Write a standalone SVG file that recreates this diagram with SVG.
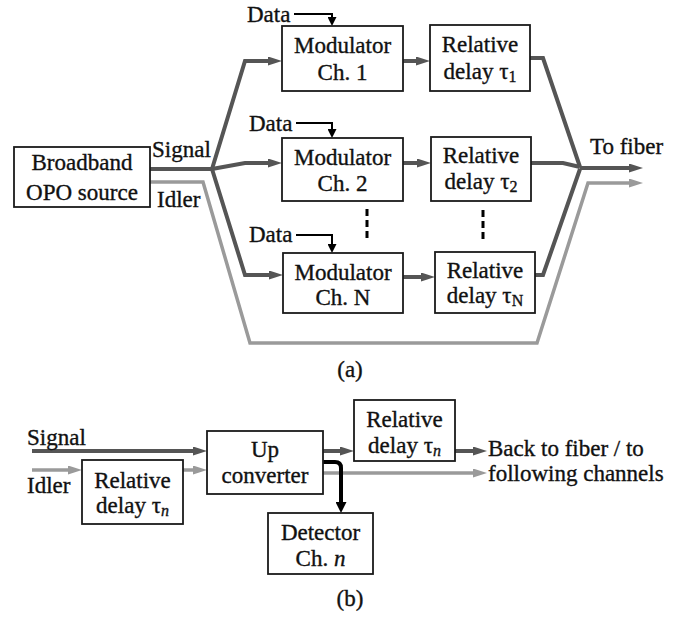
<svg xmlns="http://www.w3.org/2000/svg" width="675" height="618" viewBox="0 0 675 618">
<defs>
<style>
.box{fill:#fff;stroke:#1a1a1a;stroke-width:1.8}
.t{font-family:"Liberation Serif","Times New Roman",serif;font-size:23px;fill:#111;stroke:#111;stroke-width:0.35}
.m{text-anchor:middle}
.sig{fill:none;stroke:#555;stroke-width:4;marker-end:url(#ad)}
.sign{fill:none;stroke:#555;stroke-width:4}
.idl{fill:none;stroke:#9a9a9a;stroke-width:3.5;marker-end:url(#al)}
.dat{fill:none;stroke:#000;stroke-width:2;marker-end:url(#ak)}
.dash{stroke:#000;stroke-width:3;stroke-dasharray:7,4}
</style>
<marker id="ad" markerUnits="userSpaceOnUse" markerWidth="14" markerHeight="9" refX="7" refY="4.5" orient="auto"><path d="M0,0 L14,4.5 L0,9 Z" fill="#555"/></marker>
<marker id="al" markerUnits="userSpaceOnUse" markerWidth="14" markerHeight="9" refX="7" refY="4.5" orient="auto"><path d="M0,0 L14,4.5 L0,9 Z" fill="#9a9a9a"/></marker>
<marker id="ak" markerUnits="userSpaceOnUse" markerWidth="9" markerHeight="9" refX="2" refY="4.5" orient="auto"><path d="M0,0 L9,4.5 L0,9 Z" fill="#000"/></marker>
<marker id="akb" markerUnits="userSpaceOnUse" markerWidth="11" markerHeight="11" refX="3" refY="5.5" orient="auto"><path d="M0,0 L11,5.5 L0,11 Z" fill="#000"/></marker>
</defs>

<g id="connectors">
<path class="sign" d="M150,169 H212"/>
<path class="sig" d="M212,169 L245,61 H275"/>
<path class="sig" d="M212,169 L245,163 H275"/>
<path class="sig" d="M212,169 L245,275 H276"/>
<path class="sig" d="M403,61 H423"/>
<path class="sig" d="M403,163 H424"/>
<path class="sig" d="M403,277 H428"/>
<path class="sign" d="M530,58 H543 L580,167"/>
<path class="sign" d="M531,163 H563 L580,167"/>
<path class="sign" d="M535,275 H543 L580,169"/>
<path class="sig" d="M580,168 H636"/>
<path class="idl" d="M150,182 H203 L250,343 H537 L588,183 H636"/>
<path class="dat" d="M294,14 H332 V19"/>
<path class="dat" d="M296,123 H332 V131"/>
<path class="dat" d="M296,235 H332 V246"/>
<line class="dash" x1="367" y1="209" x2="367" y2="241"/>
<line class="dash" x1="483" y1="210" x2="483" y2="242"/>
<path class="sig" d="M32,451 H200"/>
<path class="idl" d="M32,470 H75"/>
<path class="idl" d="M183,470 H200"/>
<path class="sig" d="M323,451 H347"/>
<path class="idl" d="M323,473 H480"/>
<path class="sig" d="M455,451 H480"/>
<path d="M322,462 H335 Q341,462 341,468 V505" fill="none" stroke="#000" stroke-width="4" marker-end="url(#akb)"/>
</g>

<g id="broadband"><rect class="box" x="14" y="147" width="136" height="60"/>
<text class="t m" x="82" y="170">Broadband</text><text class="t m" x="82" y="200">OPO source</text></g>

<g id="mod1"><rect class="box" x="282" y="26" width="121" height="65"/>
<text class="t m" x="342.5" y="53">Modulator</text><text class="t m" x="342.5" y="80">Ch. 1</text></g>
<g id="delay1"><rect class="box" x="430" y="25" width="100" height="66"/>
<text class="t m" x="480" y="52">Relative</text><text class="t m" x="480" y="79">delay τ<tspan font-size="16" dy="3">1</tspan></text></g>

<g id="mod2"><rect class="box" x="282" y="138" width="121" height="63"/>
<text class="t m" x="342.5" y="165">Modulator</text><text class="t m" x="342.5" y="191">Ch. 2</text></g>
<g id="delay2"><rect class="box" x="431" y="137" width="100" height="64"/>
<text class="t m" x="481" y="163">Relative</text><text class="t m" x="481" y="189">delay τ<tspan font-size="16" dy="3">2</tspan></text></g>

<g id="modN"><rect class="box" x="283" y="253" width="120" height="60"/>
<text class="t m" x="343" y="280">Modulator</text><text class="t m" x="343" y="305">Ch. N</text></g>
<g id="delayN"><rect class="box" x="435" y="252" width="100" height="61"/>
<text class="t m" x="485" y="278">Relative</text><text class="t m" x="485" y="303">delay τ<tspan font-size="16" dy="3">N</tspan></text></g>

<g id="labels-a">
<text class="t" x="247" y="22">Data</text>
<text class="t" x="249" y="131">Data</text>
<text class="t" x="249" y="242">Data</text>
<text class="t" x="152" y="157">Signal</text>
<text class="t" x="157" y="207">Idler</text>
<text class="t" x="590" y="154">To fiber</text>
<text class="t m" x="350" y="377">(a)</text>
</g>

<g id="delayL"><rect class="box" x="82" y="460" width="101" height="64"/>
<text class="t m" x="132.5" y="488">Relative</text><text class="t m" x="132.5" y="513">delay τ<tspan font-size="16" dy="3" font-style="italic">n</tspan></text></g>
<g id="upconv"><rect class="box" x="207" y="431" width="116" height="63"/>
<text class="t m" x="265" y="457">Up</text><text class="t m" x="265" y="483">converter</text></g>
<g id="delayR"><rect class="box" x="354" y="400" width="101" height="61"/>
<text class="t m" x="404.5" y="427">Relative</text><text class="t m" x="404.5" y="453">delay τ<tspan font-size="16" dy="3" font-style="italic">n</tspan></text></g>
<g id="detector"><rect class="box" x="268" y="513" width="105" height="61"/>
<text class="t m" x="320.5" y="540">Detector</text><text class="t m" x="320.5" y="566">Ch. <tspan font-style="italic">n</tspan></text></g>

<g id="labels-b">
<text class="t" x="27" y="445">Signal</text>
<text class="t" x="27" y="493">Idler</text>
<text class="t" x="488" y="456">Back to fiber / to</text>
<text class="t" x="488" y="481">following channels</text>
<text class="t m" x="350" y="606">(b)</text>
</g>
</svg>
